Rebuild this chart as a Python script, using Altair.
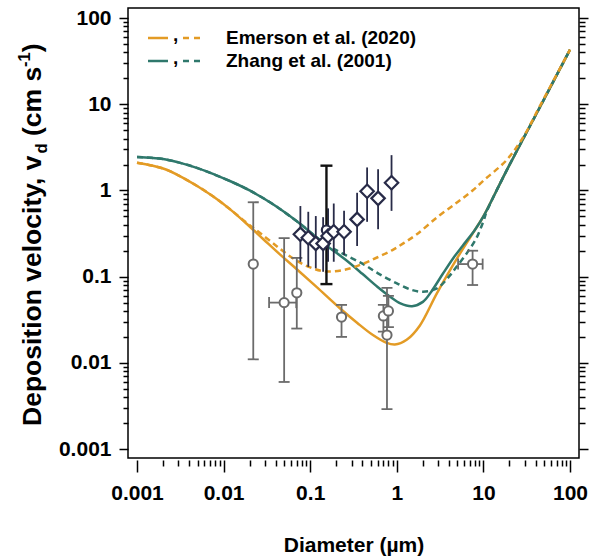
import altair as alt
import pandas as pd

ORANGE = "#E39B25"
TEAL = "#2F786C"
GRAY = "#6B6B6B"
NAVY = "#282B48"
FONT = "Liberation Sans"

# ---------------- model curves: diameter (um) -> deposition velocity (cm/s) ----------------
em_solid_d = [0.001, 0.002, 0.003, 0.005, 0.0076, 0.012, 0.018, 0.029, 0.045, 0.07, 0.12, 0.22,
              0.35, 0.53, 0.75, 0.95, 1.3, 1.84, 2.9, 4.9, 8.3, 10, 18.5, 45, 100]
em_solid_v = [2.1, 1.8, 1.5, 1.12, 0.85, 0.6, 0.42, 0.27, 0.18, 0.122, 0.075, 0.043,
              0.029, 0.021, 0.0172, 0.0163, 0.0185, 0.027, 0.064, 0.16, 0.37, 0.5, 1.7, 9.3, 43]

em_dash_d = [0.001, 0.002, 0.003, 0.005, 0.0076, 0.012, 0.018, 0.03, 0.045, 0.065, 0.1, 0.15,
             0.25, 0.4, 0.6, 0.9, 1.2, 1.7, 3.0, 5.0, 7.5, 10, 18.5, 29, 45, 100]
em_dash_v = [2.1, 1.8, 1.5, 1.12, 0.85, 0.6, 0.43, 0.29, 0.21, 0.16, 0.128, 0.115,
             0.12, 0.14, 0.168, 0.205, 0.245, 0.31, 0.5, 0.73, 1.0, 1.3, 2.25, 4.2, 9.6, 43]

zh_solid_d = [0.001, 0.002, 0.003, 0.005, 0.008, 0.012, 0.02, 0.035, 0.07, 0.15, 0.25, 0.4,
              0.6, 0.83, 1.1, 1.5, 2.0, 2.5, 3.4, 4.5, 5.8, 8, 10, 18.5, 45, 100]
zh_solid_v = [2.45, 2.32, 2.12, 1.82, 1.52, 1.28, 1.0, 0.72, 0.44, 0.235, 0.16, 0.108,
              0.076, 0.059, 0.049, 0.0455, 0.051, 0.067, 0.108, 0.165, 0.23, 0.35, 0.5, 1.7, 9.3, 43]

zh_dash_d = [0.001, 0.002, 0.003, 0.005, 0.008, 0.012, 0.02, 0.035, 0.07, 0.15, 0.25, 0.41,
             0.6, 0.99, 1.5, 2.0, 2.9, 4.0, 4.9, 6.5, 8.3, 10, 11, 18.5, 45, 100]
zh_dash_v = [2.45, 2.32, 2.12, 1.82, 1.52, 1.28, 1.0, 0.72, 0.44, 0.24, 0.18, 0.14,
             0.11, 0.084, 0.07, 0.067, 0.073, 0.1, 0.13, 0.19, 0.28, 0.44, 0.58, 1.7, 9.3, 43]

# ---------------- gray open circles (with error bars) ----------------
circ_d = [0.022, 0.050, 0.070, 0.23, 0.70, 0.80, 0.77, 7.5]
circ_v = [0.14, 0.050, 0.065, 0.034, 0.035, 0.040, 0.021, 0.14]
circ_lo = [0.011, 0.0060, 0.025, 0.020, 0.023, 0.026, 0.0029, 0.080]
circ_hi = [0.73, 0.28, 0.165, 0.047, 0.047, 0.060, 0.074, 0.20]
# horizontal error bars (points 2 and 8 only)
circ_x_lo = [0.0335, 5.1]
circ_x_hi = [0.069, 9.8]

# ---------------- navy diamonds ----------------
dia_d = [0.077, 0.095, 0.116, 0.141, 0.161, 0.187, 0.246, 0.348, 0.454, 0.608, 0.869]
dia_v = [0.31, 0.283, 0.243, 0.243, 0.296, 0.332, 0.332, 0.462, 0.98, 0.81, 1.23]
dia_lo = [0.149, 0.13, 0.125, 0.114, 0.149, 0.149, 0.178, 0.227, 0.433, 0.354, 0.58]
dia_hi = [0.66, 0.566, 0.505, 0.49, 0.62, 0.706, 0.58, 0.94, 1.85, 1.76, 2.57]

# ---------------- black bar + circle ----------------
blk_d = [0.154]
blk_v = [0.347]
blk_lo = [0.082]
blk_hi = [1.94]

tick_vals = [m * 10.0 ** e for e in range(-3, 2) for m in range(1, 10)] + [100.0]

legend_labels = ["Emerson et al. (2020)", "Zhang et al. (2001)"]

# ---------------- frames ----------------
def curve_df(d, v):
    return pd.DataFrame({"d": d, "v": v})

circ_df = pd.DataFrame({"d": circ_d, "v": circ_v, "lo": circ_lo, "hi": circ_hi})
circx_df = pd.DataFrame({"d": [circ_d[1], circ_d[7]], "v": [circ_v[1], circ_v[7]],
                         "xlo": circ_x_lo, "xhi": circ_x_hi})
dia_df = pd.DataFrame({"d": dia_d, "v": dia_v, "lo": dia_lo, "hi": dia_hi})
blk_df = pd.DataFrame({"d": blk_d, "v": blk_v, "lo": blk_lo, "hi": blk_hi})
one = pd.DataFrame({"k": [0]})

# ---------------- scales & axes ----------------
xs = alt.Scale(type="log", domain=[0.000787, 127], nice=False)
ys = alt.Scale(type="log", domain=[0.000787, 131], nice=False)

major = "abs(log(datum.value)/LN10 - round(log(datum.value)/LN10)) < 0.01"
lab = f"({major}) ? format(datum.value, '~g') : ''"

x_axis = alt.Axis(values=tick_vals, labelExpr=lab,
                  tickSize={"condition": {"test": major, "value": 12}, "value": 6},
                  tickWidth=1.5, tickColor="black", domain=False, grid=False, offset=2,
                  labelFont=FONT, labelFontSize=21, labelFontWeight="bold", labelColor="black",
                  labelPadding=10, labelOverlap=False, labelFlush=False,
                  title="Diameter (µm)", titleFont=FONT, titleFontSize=21,
                  titleFontWeight="bold", titleColor="black", titlePadding=31)

y_axis = alt.Axis(values=tick_vals, labelExpr=lab, orient="left",
                  tickSize={"condition": {"test": major, "value": 9}, "value": 5},
                  tickWidth=1.5, tickColor="black", domain=False, grid=False,
                  labelFont=FONT, labelFontSize=21, labelFontWeight="bold", labelColor="black",
                  labelPadding=8, labelOverlap=False, labelFlush=False, title=None)

y_axis_r = alt.Axis(values=tick_vals, orient="right", labels=False,
                    tickSize={"condition": {"test": major, "value": 9}, "value": 6},
                    tickWidth=1.5, tickColor="black", domain=False, grid=False, title=None)


def X(field):
    return alt.X(f"{field}:Q", scale=xs, axis=x_axis)


def Y(field, axis=None):
    return alt.Y(f"{field}:Q", scale=ys, axis=axis)


def curve(d, v, color, dash=None, axis=None):
    kw = dict(color=color, strokeWidth=2.5, interpolate="catmull-rom")
    if dash:
        kw["strokeDash"] = dash
    return alt.Chart(curve_df(d, v)).mark_line(**kw).encode(x=X("d"), y=Y("v", axis))


layers = [
    curve(em_solid_d, em_solid_v, ORANGE, axis=y_axis),
    curve(zh_solid_d, zh_solid_v, TEAL),
    curve(zh_dash_d, zh_dash_v, TEAL, dash=[6, 4]),
    curve(em_dash_d, em_dash_v, ORANGE, dash=[6, 4]),
]

# gray error bars
layers += [
    alt.Chart(circ_df).mark_rule(color=GRAY, strokeWidth=1.8).encode(x=X("d"), y=Y("lo"), y2="hi:Q"),
    alt.Chart(circ_df).mark_tick(orient="horizontal", size=11, thickness=1.8, color=GRAY, opacity=1)
       .encode(x=X("d"), y=Y("lo")),
    alt.Chart(circ_df).mark_tick(orient="horizontal", size=11, thickness=1.8, color=GRAY, opacity=1)
       .encode(x=X("d"), y=Y("hi")),
    alt.Chart(circx_df).mark_rule(color=GRAY, strokeWidth=1.8).encode(x=X("xlo"), x2="xhi:Q", y=Y("v")),
    alt.Chart(circx_df).mark_tick(orient="vertical", size=11, thickness=1.8, color=GRAY, opacity=1)
       .encode(x=X("xlo"), y=Y("v")),
    alt.Chart(circx_df).mark_tick(orient="vertical", size=11, thickness=1.8, color=GRAY, opacity=1)
       .encode(x=X("xhi"), y=Y("v")),
    alt.Chart(circ_df).mark_point(shape="circle", size=85, filled=True, fill="white", stroke=GRAY,
                                  strokeWidth=2, opacity=1).encode(x=X("d"), y=Y("v")),
]

# diamond error bars, black bar
layers += [
    alt.Chart(dia_df).mark_rule(color=NAVY, strokeWidth=1.8).encode(x=X("d"), y=Y("lo"), y2="hi:Q"),
    alt.Chart(blk_df).mark_rule(color="#111111", strokeWidth=2.4).encode(x=X("d"), y=Y("lo"), y2="hi:Q"),
    alt.Chart(blk_df).mark_tick(orient="horizontal", size=12, thickness=2.4, color="#111111", opacity=1)
       .encode(x=X("d"), y=Y("lo")),
    alt.Chart(blk_df).mark_tick(orient="horizontal", size=12, thickness=2.4, color="#111111", opacity=1)
       .encode(x=X("d"), y=Y("hi")),
    alt.Chart(blk_df).mark_point(shape="circle", size=85, filled=True, fill="white", stroke=NAVY,
                                 strokeWidth=2.2, opacity=1).encode(x=X("d"), y=Y("v")),
    alt.Chart(dia_df).mark_point(shape="diamond", size=180, filled=True, fill="white", stroke=NAVY,
                                 strokeWidth=2.2, opacity=1).encode(x=X("d"), y=Y("v")),
]

# right-hand axis (ticks only)
layers.append(
    alt.Chart(circ_df).mark_point(opacity=0).encode(x=X("d"), y=Y("v", y_axis_r))
)

# ---------------- legend ----------------
for i, (lbl, col) in enumerate(zip(legend_labels, [ORANGE, TEAL])):
    yy = 30 + 23 * i
    layers += [
        alt.Chart(one).mark_rule(color=col, strokeWidth=2.5).encode(
            x=alt.value(20), x2=alt.value(40), y=alt.value(yy)),
        alt.Chart(one).mark_rule(color=col, strokeWidth=2.5, strokeDash=[6, 5]).encode(
            x=alt.value(55), x2=alt.value(74), y=alt.value(yy)),
        alt.Chart(one).mark_text(font=FONT, fontSize=19, fontWeight="bold", color="black",
                                 align="left", baseline="alphabetic").encode(
            x=alt.value(45), y=alt.value(yy + 3), text=alt.value(",")),
        alt.Chart(one).mark_text(font=FONT, fontSize=19, fontWeight="bold", color="black",
                                 align="left", baseline="middle").encode(
            x=alt.value(98), y=alt.value(yy), text=alt.value(lbl)),
    ]

# ---------------- y title with subscript / superscript (rotated text) ----------------
W = {"D": 722, "e": 556, "p": 611, "o": 611, "s": 556, "i": 278, "t": 333, "n": 611, " ": 278,
     "v": 556, "l": 278, "c": 556, "y": 556, ",": 278, "d": 611, "(": 333, ")": 333, "m": 889,
     "-": 333, "1": 556}


def tw(s, fs):
    return sum(W[ch] for ch in s) / 1000.0 * fs


FS, FSS = 26.5, 16.5
# (text, font size, baseline shift, gap before)
segments = [("Deposition velocity, v", FS, 0, 0.0), ("d", FSS, 6, 0.0),
            ("(cm s", FS, 0, tw(" ", FS)), ("-1", FSS, -11, 0.0), (")", FS, 0, 0.0)]
ypos = 418.0
for txt, fs, dx, gap in segments:
    ypos -= gap
    layers.append(
        alt.Chart(one).mark_text(font=FONT, fontSize=fs, fontWeight="bold", color="black",
                                 angle=270, align="left", baseline="alphabetic").encode(
            x=alt.value(-87 + dx), y=alt.value(ypos), text=alt.value(txt))
    )
    ypos -= tw(txt, fs)

chart = (
    alt.layer(*layers)
    .resolve_axis(y="independent")
    .properties(width=451, height=450, autosize=alt.AutoSizeParams(type="none"),
                padding={"left": 128, "top": 8, "right": 10, "bottom": 102},
                background="white")
    .configure_view(stroke="black", strokeWidth=1.5)
)

chart.save("out.html", embed_options={"renderer": "svg", "actions": False})
